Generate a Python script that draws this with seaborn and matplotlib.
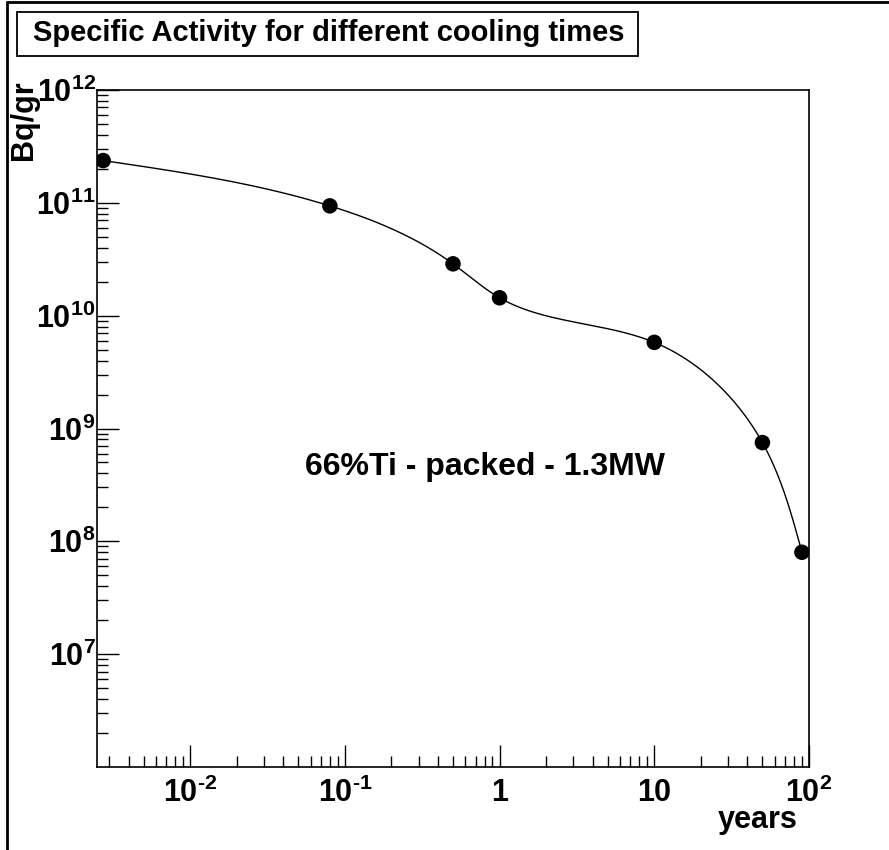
import numpy as np
import pandas as pd
import matplotlib
matplotlib.use("Agg")
import matplotlib.pyplot as plt
import seaborn as sns
from matplotlib.ticker import LogLocator, FixedLocator, FixedFormatter, NullFormatter
from matplotlib.patches import Rectangle
from matplotlib.lines import Line2D

# ---------------- data ----------------
cooling_years = [0.00274, 0.08, 0.5, 1.0, 10.0, 50.0, 90.0]
activity_bq_per_gr = [2.37e11, 9.4e10, 2.88e10, 1.44e10, 5.8e9, 7.5e8, 8.0e7]

x_tick_values = [1e-2, 1e-1, 1.0, 10.0, 100.0]
x_tick_labels = ["$\\mathbf{10^{\u20102}}$", "$\\mathbf{10^{\u20101}}$", r"$\mathbf{1}$",
                 r"$\mathbf{10}$", r"$\mathbf{10^{2}}$"]
y_tick_values = [1e7, 1e8, 1e9, 1e10, 1e11, 1e12]
y_tick_labels = [r"$\mathbf{10^{7}}$", r"$\mathbf{10^{8}}$", r"$\mathbf{10^{9}}$",
                 r"$\mathbf{10^{10}}$", r"$\mathbf{10^{11}}$", r"$\mathbf{10^{12}}$"]

title_text = "Specific Activity for different cooling times"
y_axis_label = "Bq/gr"
x_axis_label = "years"
annotation_text = "66%Ti - packed - 1.3MW"

# ---------------- style ----------------
sns.set_theme(style="ticks")
plt.rcParams['font.family'] = ['Liberation Sans', 'DejaVu Sans']
plt.rcParams['font.weight'] = 'bold'
plt.rcParams['mathtext.fontset'] = 'custom'
plt.rcParams['mathtext.rm'] = 'Liberation Sans:bold'
plt.rcParams['mathtext.bf'] = 'Liberation Sans:bold'
plt.rcParams['mathtext.it'] = 'Liberation Sans:bold'
plt.rcParams['mathtext.default'] = 'bf'
plt.rcParams['text.color'] = 'black'
plt.rcParams['axes.labelcolor'] = 'black'
plt.rcParams['xtick.color'] = 'black'
plt.rcParams['ytick.color'] = 'black'
plt.rcParams['xtick.labelcolor'] = 'black'
plt.rcParams['ytick.labelcolor'] = 'black'
plt.rcParams['axes.edgecolor'] = 'black'

W, H = 889, 850
fig = plt.figure(figsize=(W / 100, H / 100), dpi=100)
fig.patch.set_facecolor("white")

ax_l, ax_r, ax_t, ax_b = 97, 809, 90, 767
ax = fig.add_axes([ax_l / W, 1 - ax_b / H, (ax_r - ax_l) / W, (ax_b - ax_t) / H])
ax.set_facecolor("white")


# smooth curve through the points (like ROOT's "C" option): parametric
# cubic spline with chord-length parameter, in screen-scaled log-log space
def natural_spline(tk, yk, ts):
    n = len(tk)
    h = np.diff(tk)
    A = np.zeros((n, n))
    b = np.zeros(n)
    A[0, 0] = A[-1, -1] = 1.0
    for i in range(1, n - 1):
        A[i, i - 1] = h[i - 1]
        A[i, i] = 2 * (h[i - 1] + h[i])
        A[i, i + 1] = h[i]
        b[i] = 6 * ((yk[i + 1] - yk[i]) / h[i] - (yk[i] - yk[i - 1]) / h[i - 1])
    M = np.linalg.solve(A, b)
    idx = np.clip(np.searchsorted(tk, ts) - 1, 0, n - 2)
    x0, x1 = tk[idx], tk[idx + 1]
    hh = x1 - x0
    t0, t1 = x1 - ts, ts - x0
    return (M[idx] * t0 ** 3 / (6 * hh) + M[idx + 1] * t1 ** 3 / (6 * hh)
            + (yk[idx] / hh - M[idx] * hh / 6) * t0
            + (yk[idx + 1] / hh - M[idx + 1] * hh / 6) * t1)


px_per_dec_x = (ax_r - ax_l) / (np.log10(100) - np.log10(0.0025))
px_per_dec_y = (ax_b - ax_t) / 6.0
sx = np.log10(cooling_years) * px_per_dec_x
sy = np.log10(activity_bq_per_gr) * px_per_dec_y
chord = np.concatenate([[0], np.cumsum(np.hypot(np.diff(sx), np.diff(sy)))])
ts = np.linspace(0, chord[-1], 800)
cx = natural_spline(chord, sx, ts) / px_per_dec_x
cy = natural_spline(chord, sy, ts) / px_per_dec_y
curve = pd.DataFrame({"years": 10 ** cx, "activity": 10 ** cy})
points = pd.DataFrame({"years": cooling_years, "activity": activity_bq_per_gr})

sns.lineplot(data=curve, x="years", y="activity", ax=ax, color="black",
             linewidth=1.0, estimator=None, sort=False, zorder=2)
sns.scatterplot(data=points, x="years", y="activity", ax=ax, color="black",
                s=125, edgecolor="none", zorder=3, legend=False)

ax.set_xscale("log")
ax.set_yscale("log")
ax.set_xlim(0.0025, 100)
ax.set_ylim(1e6, 1e12)
ax.set_xlabel("")
ax.set_ylabel("")

ax.xaxis.set_major_locator(FixedLocator(x_tick_values))
ax.xaxis.set_major_formatter(FixedFormatter(x_tick_labels))
ax.yaxis.set_major_locator(FixedLocator(y_tick_values))
ax.yaxis.set_major_formatter(FixedFormatter(y_tick_labels))
ax.xaxis.set_minor_locator(LogLocator(base=10, subs=np.arange(2, 10), numticks=20))
ax.yaxis.set_minor_locator(LogLocator(base=10, subs=np.arange(2, 10), numticks=20))
ax.xaxis.set_minor_formatter(NullFormatter())
ax.yaxis.set_minor_formatter(NullFormatter())

ax.tick_params(axis="both", which="major", direction="in", length=15.5, width=1.0,
               color="black", labelcolor="black", labelsize=22, top=False, right=False)
ax.tick_params(axis="both", which="minor", direction="in", length=8, width=1.0,
               color="black", top=False, right=False)
ax.tick_params(axis="x", which="major", pad=8)
ax.tick_params(axis="y", which="major", pad=1)
for lab in ax.get_xticklabels() + ax.get_yticklabels():
    lab.set_fontweight("bold")
    lab.set_color("black")

for side, sp in ax.spines.items():
    sp.set_visible(True)
    sp.set_color("black")
    sp.set_linewidth(1.2)

# annotation inside the plot
ax.text(0.292, 0.443, annotation_text, transform=ax.transAxes, fontsize=23,
        fontweight="bold", ha="left", va="center", color="black")

# axis titles (ROOT style: at the ends)
fig.text(24 / W, 1 - 80 / H, y_axis_label, rotation=90, ha="center", va="top",
         fontsize=22, fontweight="bold", color="black")
fig.text(798 / W, 1 - 820 / H, x_axis_label, ha="right", va="center",
         fontsize=22, fontweight="bold", color="black")

# title box
fig.patches.append(Rectangle((17 / W, 1 - 56 / H), 621 / W, 44 / H,
                             transform=fig.transFigure, facecolor="white",
                             edgecolor="black", linewidth=1.3))
fig.text(33 / W, 1 - 33 / H, title_text, ha="left", va="center",
         fontsize=21, fontweight="bold", color="black")

# canvas frame (left and top)
fig.lines.append(Line2D([7 / W, 7 / W], [0, 1 - 2 / H], transform=fig.transFigure,
                        color="black", linewidth=2))
fig.lines.append(Line2D([7 / W, 1], [1 - 2 / H, 1 - 2 / H], transform=fig.transFigure,
                        color="black", linewidth=2))

fig.savefig("out.png", dpi=100, facecolor="white")
